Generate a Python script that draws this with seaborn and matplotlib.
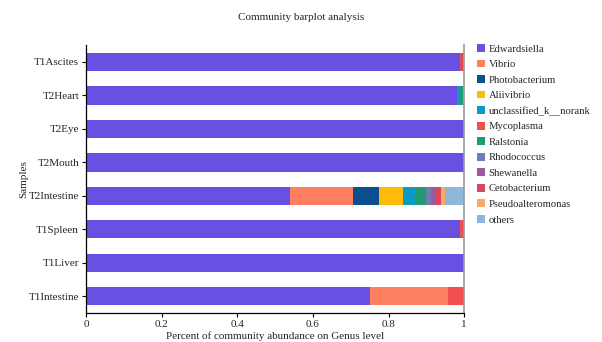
import numpy as np
import pandas as pd
import matplotlib
matplotlib.use("Agg")
import matplotlib.pyplot as plt
import seaborn as sns
from matplotlib.patches import Patch

samples = ["T1Ascites", "T2Heart", "T2Eye", "T2Mouth", "T2Intestine",
           "T1Spleen", "T1Liver", "T1Intestine"]
genera = ["Edwardsiella", "Vibrio", "Photobacterium", "Aliivibrio",
          "unclassified_k__norank", "Mycoplasma", "Ralstonia", "Rhodococcus",
          "Shewanella", "Cetobacterium", "Pseudoalteromonas", "others"]
colors = ["#6A4FE3", "#FF7F61", "#0B4F8E", "#FFBA0A", "#0A9AC2", "#F24F4F",
          "#239B72", "#737BB0", "#965BA1", "#D5495F", "#F7A866", "#90B7D9"]

# relative abundance per genus, one value per sample (same order as samples)
edwardsiella = [0.990, 0.982, 1.000, 1.000, 0.540, 0.990, 1.000, 0.752]
vibrio       = [0.000, 0.000, 0.000, 0.000, 0.165, 0.000, 0.000, 0.206]
photobact    = [0.000, 0.000, 0.000, 0.000, 0.070, 0.000, 0.000, 0.000]
aliivibrio   = [0.000, 0.000, 0.000, 0.000, 0.063, 0.000, 0.000, 0.000]
unclassified = [0.000, 0.008, 0.000, 0.000, 0.035, 0.000, 0.000, 0.000]
mycoplasma   = [0.003, 0.000, 0.000, 0.000, 0.000, 0.006, 0.000, 0.042]
ralstonia    = [0.000, 0.006, 0.000, 0.000, 0.026, 0.000, 0.000, 0.000]
rhodococcus  = [0.000, 0.000, 0.000, 0.000, 0.014, 0.000, 0.000, 0.000]
shewanella   = [0.000, 0.000, 0.000, 0.000, 0.013, 0.000, 0.000, 0.000]
cetobacter   = [0.004, 0.000, 0.000, 0.000, 0.013, 0.004, 0.000, 0.000]
pseudoalt    = [0.000, 0.000, 0.000, 0.000, 0.011, 0.000, 0.000, 0.000]
others       = [0.003, 0.004, 0.000, 0.000, 0.050, 0.000, 0.000, 0.000]

table = pd.DataFrame(
    np.column_stack([edwardsiella, vibrio, photobact, aliivibrio, unclassified,
                     mycoplasma, ralstonia, rhodococcus, shewanella,
                     cetobacter, pseudoalt, others]),
    index=samples, columns=genera)
table = table.div(table.sum(axis=1), axis=0)
cum = table.cumsum(axis=1)

sns.set_style("white")
plt.rcParams["font.family"] = ["Liberation Serif", "DejaVu Serif"]

fig = plt.figure(figsize=(6.02, 3.42), dpi=100)
ax = fig.add_axes([0.143, 0.085, 0.628, 0.783])

# stacked bars: draw cumulative totals from the outermost layer inward
for g, c in reversed(list(zip(genera, colors))):
    df = pd.DataFrame({"sample": samples, "value": cum[g].values})
    sns.barplot(data=df, x="value", y="sample", order=samples, color=c,
                orient="h", width=0.55, ax=ax, saturation=1,
                linewidth=0, edgecolor="none")

ax.set_xlim(0, 1)
ax.set_ylim(7.5, -0.5)
ax.set_xticks([0, 0.2, 0.4, 0.6, 0.8, 1.0])
ax.set_xticklabels(["0", "0.2", "0.4", "0.6", "0.8", "1"])
ax.tick_params(axis="both", labelsize=8, length=3, width=0.8,
               direction="out", color="black", pad=2)
ax.tick_params(axis="x", bottom=True)
ax.tick_params(axis="y", left=True)

for side in ["left", "bottom"]:
    ax.spines[side].set_color("black")
    ax.spines[side].set_linewidth(0.9)
ax.spines["top"].set_visible(False)
ax.spines["right"].set_color("#999999")
ax.spines["right"].set_linewidth(1.2)

ax.set_xlabel("Percent of community abundance on Genus level", fontsize=8,
              labelpad=2)
ax.set_ylabel("Samples", fontsize=8, labelpad=0)
fig.text(0.5, 0.948, "Community barplot analysis", ha="center", va="center",
         fontsize=8)

handles = [Patch(facecolor=c, edgecolor="none", label=g)
           for g, c in zip(genera, colors)]
ax.legend(handles=handles, loc="upper left", bbox_to_anchor=(1.022, 1.02),
          frameon=False, fontsize=7.7, handlelength=0.75, handleheight=0.75,
          handletextpad=0.35, labelspacing=0.55, borderaxespad=0)

fig.savefig("out.png", dpi=100)
